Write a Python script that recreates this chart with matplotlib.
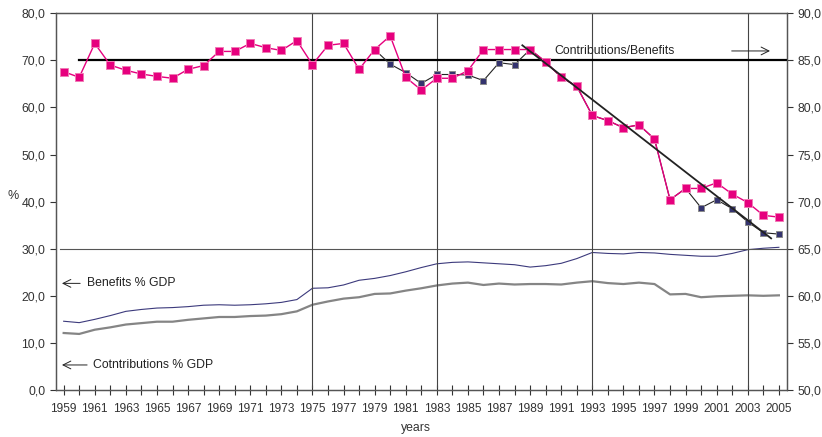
import numpy as np
import matplotlib
matplotlib.use("Agg")
import matplotlib.pyplot as plt

plt.rcParams['font.family'] = ['Liberation Sans', 'DejaVu Sans']

years = list(range(1959, 2006))

# contributions / benefits ratio (right axis, %)
ratio_pink = [83.8, 83.2, 86.8, 84.5, 83.95, 83.55, 83.3, 83.1, 84.05, 84.45,
              85.95, 85.95, 86.8, 86.35, 86.05, 87.1, 84.55, 86.6, 86.8, 84.05,
              86.15, 87.6, 83.2, 81.85, 83.1, 83.1, 83.9, 86.15, 86.15, 86.15,
              86.15, 84.85, 83.2, 82.25, 79.15, 78.6, 77.85, 78.15, 76.65, 70.2,
              71.4, 71.4, 72.0, 70.8, 69.9, 68.55, 68.35]
navy_years = list(range(1979, 2006))
ratio_navy = [86.15, 84.6, 83.7, 82.55, 83.5, 83.5, 83.45, 82.85, 84.75, 84.55,
              86.15, 84.85, 83.2, 82.25, 79.15, 78.6, 77.85, 78.15, 76.65, 70.2,
              71.4, 69.35, 70.2, 69.25, 67.85, 66.7, 66.55]
trend_years = [1988.5, 2004.5]
trend_values = [86.6, 66.1]

# % of GDP (left axis)
benefits_gdp = [14.6, 14.3, 15.0, 15.8, 16.7, 17.1, 17.4, 17.5, 17.7, 18.0,
                18.1, 18.0, 18.1, 18.3, 18.6, 19.2, 21.6, 21.7, 22.3, 23.3,
                23.7, 24.3, 25.1, 26.0, 26.8, 27.1, 27.2, 27.0, 26.8, 26.6,
                26.1, 26.4, 26.9, 27.9, 29.2, 29.0, 28.9, 29.2, 29.1, 28.8,
                28.6, 28.4, 28.4, 29.0, 29.8, 30.1, 30.3]
contrib_gdp = [12.1, 11.9, 12.8, 13.3, 13.9, 14.2, 14.5, 14.5, 14.9, 15.2,
               15.5, 15.5, 15.7, 15.8, 16.1, 16.7, 18.1, 18.8, 19.4, 19.7,
               20.4, 20.5, 21.1, 21.6, 22.2, 22.6, 22.8, 22.3, 22.6, 22.4,
               22.5, 22.5, 22.4, 22.8, 23.1, 22.7, 22.5, 22.8, 22.5, 20.3,
               20.4, 19.7, 19.9, 20.0, 20.1, 20.0, 20.1]

break_years = [1975, 1983, 1993, 2003]
ratio_ref = 85.0
gdp_ref = 30.0

fig = plt.figure(figsize=(8.22, 4.37), dpi=100)
ax = fig.add_axes([0.068, 0.1076, 0.889, 0.862])
ax2 = ax.twinx()

ax.set_xlim(1958.5, 2005.5)
ax.set_ylim(0, 80)
ax2.set_ylim(50, 90)

# GDP lines
ax.plot(years, benefits_gdp, color='#3c3a7c', lw=0.8)
ax.plot(years, contrib_gdp, color='#858585', lw=1.6)
ax.axhline(gdp_ref, xmin=0.005, color='#555555', lw=0.8)
for y in break_years:
    ax.plot([y, y], [0.7, 80], color='#444444', lw=0.8)

# ratio lines
ax2.plot([1960, 2005.5], [ratio_ref, ratio_ref], color='black', lw=1.6, zorder=2)
ax2.plot(navy_years, ratio_navy, color='#222222', lw=0.8, marker='s', ms=4.2,
         mfc='#34336e', mec='#8a8a8a', mew=0.7, zorder=3)
ax2.plot(years, ratio_pink, color='#e6007e', lw=1.0, marker='s', ms=5.2,
         mfc='#e6007e', mec='#f07ab5', mew=0.7, zorder=4)
ax2.plot(trend_years, trend_values, color='#222222', lw=1.3, zorder=5)

# ticks
ax.set_xticks(years)
ax.set_xticklabels([str(y) if (y - 1959) % 2 == 0 else '' for y in years])
ax.tick_params(axis='x', direction='inout', length=7, width=0.8, labelsize=8.6,
               pad=6, colors='#333333')
ax.set_yticks(np.arange(0, 81, 10))
ax.set_yticklabels([f"{v:.1f}".replace('.', ',') for v in np.arange(0, 81, 10)])
ax.tick_params(axis='y', direction='out', length=4, width=0.8, labelsize=8.8,
               colors='#333333')
ax2.set_yticks(np.arange(50, 91, 5))
ax2.set_yticklabels([f"{v:.1f}".replace('.', ',') for v in np.arange(50, 91, 5)])
ax2.tick_params(axis='y', direction='out', length=4, width=0.8, labelsize=8.8,
                colors='#333333')

for a in (ax, ax2):
    for s in a.spines.values():
        s.set_color('#555555')
        s.set_linewidth(0.9)

# labels and annotations
fig.text(13 / 822, 1 - 196 / 437, '%', ha='center', va='center', fontsize=9,
         color='#333333')
fig.text(416 / 822, 1 - 428 / 437, 'years', ha='center', va='center',
         fontsize=8.8, color='#333333')

ax.text(0.6815, 0.900, 'Contributions/Benefits', transform=ax.transAxes,
        ha='left', va='center', fontsize=8.8, color='#222222')
ax.annotate('', xy=(0.981, 0.900), xytext=(0.921, 0.900), xycoords='axes fraction',
            arrowprops=dict(arrowstyle='->', color='#222222', lw=0.7,
                            mutation_scale=14))
ax.annotate('', xy=(0.0045, 0.283), xytext=(0.037, 0.283), xycoords='axes fraction',
            arrowprops=dict(arrowstyle='->', color='#222222', lw=0.7,
                            mutation_scale=14))
ax.text(0.043, 0.283, 'Benefits % GDP', transform=ax.transAxes,
        ha='left', va='center', fontsize=8.8, color='#222222')
ax.annotate('', xy=(0.0045, 0.0664), xytext=(0.0465, 0.0664),
            xycoords='axes fraction',
            arrowprops=dict(arrowstyle='->', color='#222222', lw=0.7,
                            mutation_scale=14))
ax.text(0.051, 0.0664, 'Cotntributions % GDP', transform=ax.transAxes,
        ha='left', va='center', fontsize=8.8, color='#222222')

fig.savefig('out.png', dpi=100)
